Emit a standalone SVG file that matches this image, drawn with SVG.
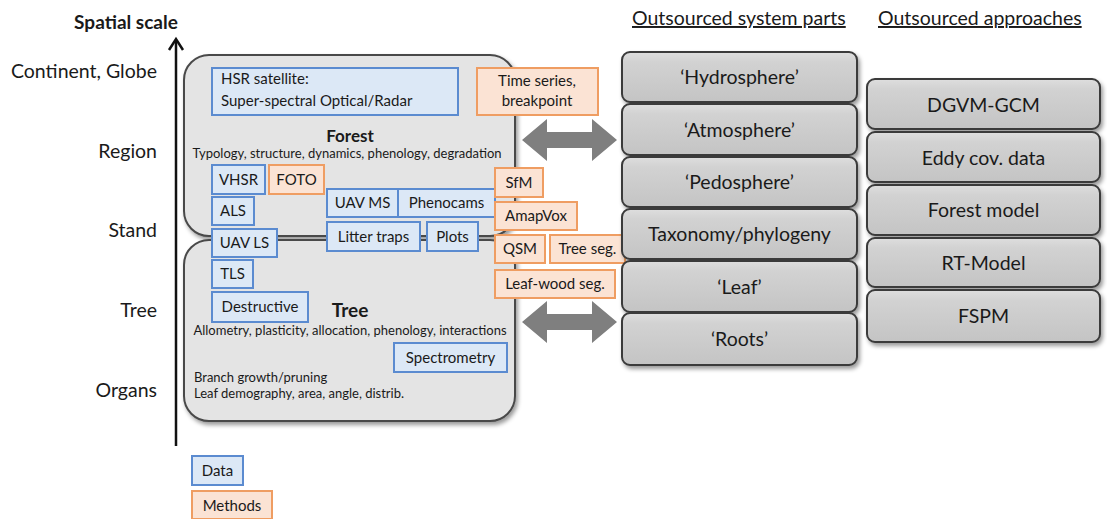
<svg xmlns="http://www.w3.org/2000/svg" width="1107" height="519" viewBox="0 0 1107 519">
<style>
text{font-family:Lato,"Liberation Sans",sans-serif;fill:#1a1a1a}
.lbl{font-size:19.5px;text-anchor:end}
.hdr{font-size:19.5px;text-decoration:underline}
.big{fill:#e4e4e4;stroke:#4a4a4a;stroke-width:2}
.gb{fill:url(#gg);stroke:#3a3a3a;stroke-width:2}
.gt{font-size:19.5px;text-anchor:middle}
.d{fill:#dce8f6;stroke:#5b8bd0;stroke-width:2}
.m{fill:#fbe3d4;stroke:#ef9d62;stroke-width:2}
.s{font-size:15px}
.c{text-anchor:middle}
.sm{font-size:13px}
</style>
<defs>
<linearGradient id="gg" x1="0" y1="0" x2="0" y2="1">
<stop offset="0" stop-color="#dedede"/>
<stop offset="0.2" stop-color="#d2d2d2"/>
<stop offset="1" stop-color="#c4c4c4"/>
</linearGradient>
<filter id="sh" x="-10%" y="-10%" width="130%" height="130%">
<feDropShadow dx="2" dy="3" stdDeviation="2" flood-color="#000" flood-opacity="0.4"/>
</filter>
</defs>

<g id="axis-labels">
<text x="126" y="29" style="font-size:19px;font-weight:bold" text-anchor="middle">Spatial scale</text>
<text class="lbl" x="157" y="78">Continent, Globe</text>
<text class="lbl" x="157" y="158">Region</text>
<text class="lbl" x="157" y="237">Stand</text>
<text class="lbl" x="157" y="317">Tree</text>
<text class="lbl" x="157" y="397">Organs</text>
</g>

<g id="forest">
<rect class="big" x="184" y="55" width="331" height="181" rx="25" filter="url(#sh)"/>
<text x="350" y="142" class="c" style="font-size:17px;font-weight:bold">Forest</text>
<text x="347" y="158" class="c sm">Typology, structure, dynamics, phenology, degradation</text>
</g>
<g id="tree">
<rect class="big" x="184" y="240" width="331" height="181" rx="25" filter="url(#sh)"/>
<text x="350" y="317" class="c" style="font-size:19px;font-weight:bold">Tree</text>
<text x="350" y="335" class="c sm">Allometry, plasticity, allocation, phenology, interactions</text>
<text x="194" y="382" class="sm">Branch growth/pruning</text>
<text x="194" y="398" class="sm">Leaf demography, area, angle, distrib.</text>
</g>

<g id="hsr"><rect class="d" x="212" y="68" width="246" height="47"/><text class="s" x="221" y="84">HSR satellite:</text><text class="s" x="221" y="106">Super-spectral  Optical/Radar</text></g>
<g id="timeseries"><rect class="m" x="477" y="68" width="121" height="47"/><text class="s c" x="537" y="86">Time series,</text><text class="s c" x="537" y="106">breakpoint</text></g>
<g id="vhsr"><rect class="d" x="212" y="165" width="53" height="29"/><text class="s c" x="238.5" y="185">VHSR</text></g>
<g id="foto"><rect class="m" x="269" y="165" width="55" height="29"/><text class="s c" x="296.5" y="185">FOTO</text></g>
<g id="als"><rect class="d" x="212" y="197" width="42" height="28"/><text class="s c" x="233" y="216">ALS</text></g>
<g id="uavms"><rect class="d" x="327" y="189" width="71" height="28"/><text class="s c" x="362.5" y="208">UAV MS</text></g>
<g id="phenocams"><rect class="d" x="398" y="189" width="97" height="28"/><text class="s c" x="446.5" y="208">Phenocams</text></g>
<g id="uavls"><rect class="d" x="212" y="229" width="65" height="28"/><text class="s c" x="244.5" y="248">UAV LS</text></g>
<g id="littertraps"><rect class="d" x="327" y="222" width="93" height="29"/><text class="s c" x="373.5" y="242">Litter traps</text></g>
<g id="plots"><rect class="d" x="427" y="222" width="51" height="29"/><text class="s c" x="452.5" y="242">Plots</text></g>
<g id="tls"><rect class="d" x="212" y="260" width="41" height="28"/><text class="s c" x="232.5" y="279">TLS</text></g>
<g id="destructive"><rect class="d" x="212" y="292" width="96" height="30"/><text class="s c" x="260" y="312">Destructive</text></g>
<g id="spectrometry"><rect class="d" x="394" y="343" width="113" height="29"/><text class="s c" x="450.5" y="363">Spectrometry</text></g>

<g id="sfm"><rect class="m" x="495" y="168" width="48" height="29"/><text class="s c" x="519" y="188">SfM</text></g>
<g id="amapvox"><rect class="m" x="495" y="202" width="82" height="28"/><text class="s c" x="536" y="221">AmapVox</text></g>
<g id="qsm"><rect class="m" x="495" y="235" width="50" height="28"/><text class="s c" x="520" y="254">QSM</text></g>
<g id="treeseg"><rect class="m" x="550" y="235" width="75" height="28"/><text class="s c" x="587.5" y="254">Tree seg.</text></g>
<g id="leafwood"><rect class="m" x="495" y="270" width="120" height="28"/><text class="s c" x="555" y="289">Leaf-wood seg.</text></g>

<g id="headers">
<text class="hdr" x="632" y="25">Outsourced system parts</text>
<text class="hdr" x="878" y="25">Outsourced approaches</text>
</g>

<g id="hydrosphere"><rect class="gb" x="622" y="52" width="235" height="50" rx="8" filter="url(#sh)"/><text class="gt" x="739.5" y="84">‘Hydrosphere’</text></g>
<g id="atmosphere"><rect class="gb" x="622" y="104" width="235" height="51" rx="8" filter="url(#sh)"/><text class="gt" x="739.5" y="137">‘Atmosphere’</text></g>
<g id="pedosphere"><rect class="gb" x="622" y="157" width="235" height="50" rx="8" filter="url(#sh)"/><text class="gt" x="739.5" y="189">‘Pedosphere’</text></g>
<g id="taxonomy"><rect class="gb" x="622" y="209" width="235" height="50" rx="8" filter="url(#sh)"/><text class="gt" x="739.5" y="241">Taxonomy/phylogeny</text></g>
<g id="leaf"><rect class="gb" x="622" y="261" width="235" height="51" rx="8" filter="url(#sh)"/><text class="gt" x="739.5" y="294">‘Leaf’</text></g>
<g id="roots"><rect class="gb" x="622" y="313" width="235" height="52" rx="8" filter="url(#sh)"/><text class="gt" x="739.5" y="346">‘Roots’</text></g>

<g id="dgvm"><rect class="gb" x="867" y="79" width="233" height="50" rx="8" filter="url(#sh)"/><text class="gt" x="983.5" y="112">DGVM-GCM</text></g>
<g id="eddy"><rect class="gb" x="867" y="132" width="233" height="50" rx="8" filter="url(#sh)"/><text class="gt" x="983.5" y="165">Eddy cov. data</text></g>
<g id="forestmodel"><rect class="gb" x="867" y="185" width="233" height="50" rx="8" filter="url(#sh)"/><text class="gt" x="983.5" y="217">Forest model</text></g>
<g id="rtmodel"><rect class="gb" x="867" y="238" width="233" height="49" rx="8" filter="url(#sh)"/><text class="gt" x="983.5" y="270">RT-Model</text></g>
<g id="fspm"><rect class="gb" x="867" y="290" width="233" height="52" rx="8" filter="url(#sh)"/><text class="gt" x="983.5" y="323">FSPM</text></g>

<g id="legend">
<g id="data"><rect class="d" x="192" y="456" width="51" height="29"/><text class="s c" x="217.5" y="476">Data</text></g>
<g id="methods"><rect class="m" x="192" y="491" width="80" height="28"/><text class="s c" x="232" y="511">Methods</text></g>
</g>

<g id="connectors">
<line x1="176" y1="446" x2="176" y2="40" stroke="#111" stroke-width="2.5"/>
<polyline points="169,50 176,39 183,50" fill="none" stroke="#111" stroke-width="2.5"/>
<polygon points="522,140 547,119 547,132 592,132 592,119 617,140 592,161 592,148 547,148 547,161" fill="#7f7f7f"/>
<polygon points="522,322 547,301 547,314 592,314 592,301 617,322 592,343 592,330 547,330 547,343" fill="#7f7f7f"/>
</g>
</svg>
